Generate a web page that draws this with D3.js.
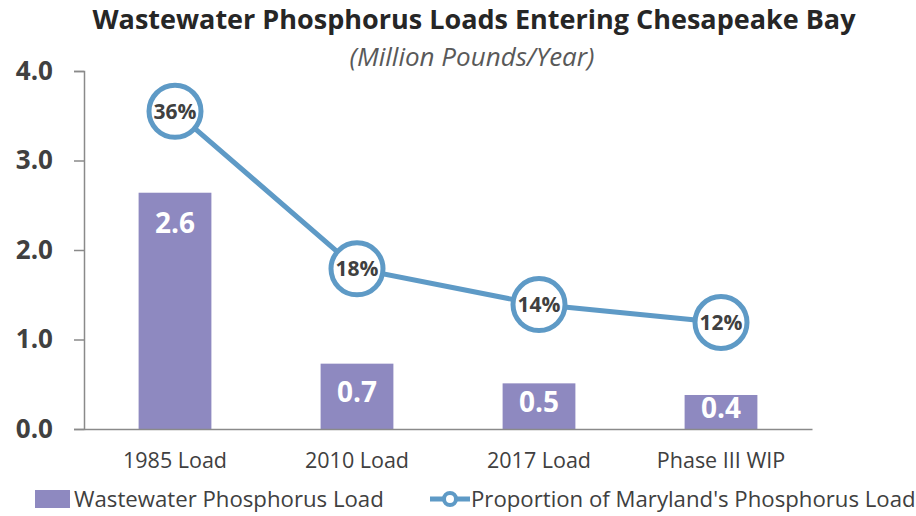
<!DOCTYPE html>
<html>
<head>
<meta charset="utf-8">
<script src="https://cdn.jsdelivr.net/npm/d3@7"></script>
<style>
  body { margin: 0; background: #fff; }
  svg { font-family: "Open Sans", sans-serif; }
</style>
</head>
<body>
<svg id="chart" width="916" height="516"></svg>
<script>
const categories = ["1985 Load", "2010 Load", "2017 Load", "Phase III WIP"];
const loadValues = [2.64, 0.73, 0.51, 0.38];
const loadLabels = ["2.6", "0.7", "0.5", "0.4"];
const proportionValues = [0.355, 0.179, 0.139, 0.119];
const yTicks = [0, 1, 2, 3, 4];

const barColor = "#8E89C0";
const lineColor = "#5E9AC6";
const textColor = "#404040";
const axisColor = "#8a8a8a";

const svg = d3.select("#chart");
const margin = { top: 71, right: 104, bottom: 87, left: 84 };
const width = 916;
const height = 516;

//Scales
const xScale = d3
  .scaleBand()
  .domain(categories)
  .range([margin.left, width - margin.right])
  .paddingInner(0.6)
  .paddingOuter(0.3);

const yScale = d3
  .scaleLinear()
  .domain([0, 4])
  .range([height - margin.bottom, margin.top]);

//secondary axis is hidden, 0% to 40%
const y2Scale = d3
  .scaleLinear()
  .domain([0, 0.4])
  .range([height - margin.bottom, margin.top]);

const centerX = (d) => xScale(d) + xScale.bandwidth() / 2;

//Title
svg
  .append("text")
  .attr("x", 474)
  .attr("y", 29)
  .attr("text-anchor", "middle")
  .attr("font-weight", "bold")
  .attr("font-size", 27)
  .attr("fill", "#262626")
  .text("Wastewater Phosphorus Loads Entering Chesapeake Bay");

svg
  .append("text")
  .attr("x", 472)
  .attr("y", 66)
  .attr("text-anchor", "middle")
  .attr("font-style", "italic")
  .attr("font-size", 26)
  .attr("fill", "#595959")
  .text("(Million Pounds/Year)");

//Bars
svg
  .selectAll(".bar")
  .data(categories)
  .enter()
  .append("rect")
  .attr("class", "bar")
  .attr("x", (d) => xScale(d))
  .attr("y", (d, i) => yScale(loadValues[i]))
  .attr("width", xScale.bandwidth())
  .attr("height", (d, i) => yScale(0) - yScale(loadValues[i]))
  .attr("fill", barColor);

//labels sit near the top, or get pushed toward the middle on short bars
const labelCenter = (i) => {
  const top = yScale(loadValues[i]);
  return Math.min(top + 30, (top + yScale(0)) / 2 - 4);
};

svg
  .selectAll(".bar-label")
  .data(categories)
  .enter()
  .append("text")
  .attr("class", "bar-label")
  .attr("x", centerX)
  .attr("y", (d, i) => labelCenter(i))
  .attr("dy", "0.36em")
  .attr("text-anchor", "middle")
  .attr("font-weight", "bold")
  .attr("font-size", 28)
  .attr("fill", "#fff")
  .text((d, i) => loadLabels[i]);

//Axes
const yAxis = d3
  .axisLeft(yScale)
  .tickValues(yTicks)
  .tickFormat(d3.format(".1f"))
  .tickSize(10)
  .tickPadding(21);

const yAxisG = svg
  .append("g")
  .attr("transform", `translate(${margin.left},0)`)
  .call(yAxis);
yAxisG.select(".domain").attr("stroke", axisColor).attr("stroke-width", 1.5);
yAxisG.selectAll(".tick line").attr("stroke", axisColor).attr("stroke-width", 1.5);
yAxisG
  .selectAll(".tick text")
  .attr("font-family", "'Open Sans', sans-serif")
  .attr("font-size", 26)
  .attr("font-weight", "bold")
  .attr("fill", textColor);

const xAxis = d3.axisBottom(xScale).tickSize(0).tickPadding(24);
const xAxisG = svg
  .append("g")
  .attr("transform", `translate(0,${yScale(0)})`)
  .call(xAxis);
xAxisG.select(".domain").attr("stroke", axisColor).attr("stroke-width", 1.5);
xAxisG
  .selectAll(".tick text")
  .attr("font-family", "'Open Sans', sans-serif")
  .attr("font-size", 21.5)
  .attr("fill", textColor);

//Line with markers
const line = d3
  .line()
  .x((d, i) => centerX(categories[i]))
  .y((d) => y2Scale(d));

svg
  .append("path")
  .datum(proportionValues)
  .attr("d", line)
  .attr("fill", "none")
  .attr("stroke", lineColor)
  .attr("stroke-width", 5);

const markers = svg
  .selectAll(".marker")
  .data(proportionValues)
  .enter()
  .append("g")
  .attr("class", "marker")
  .attr("transform", (d, i) => `translate(${centerX(categories[i])},${y2Scale(d)})`);

markers
  .append("circle")
  .attr("r", 26)
  .attr("fill", "#fff")
  .attr("stroke", lineColor)
  .attr("stroke-width", 5);

markers
  .append("text")
  .attr("text-anchor", "middle")
  .attr("dy", "0.36em")
  .attr("font-weight", "bold")
  .attr("font-size", 21)
  .attr("fill", textColor)
  .text((d) => d3.format(".0%")(d));

//Legend
const legend = svg.append("g").attr("transform", "translate(0,499)");
legend
  .append("rect")
  .attr("x", 35)
  .attr("y", -9)
  .attr("width", 35)
  .attr("height", 18)
  .attr("fill", barColor);
legend
  .append("text")
  .attr("x", 74)
  .attr("y", 8)
  .attr("font-size", 22.2)
  .attr("fill", textColor)
  .text("Wastewater Phosphorus Load");
legend
  .append("line")
  .attr("x1", 430)
  .attr("x2", 470)
  .attr("y1", 0)
  .attr("y2", 0)
  .attr("stroke", lineColor)
  .attr("stroke-width", 5);
legend
  .append("circle")
  .attr("cx", 450)
  .attr("cy", 0)
  .attr("r", 6)
  .attr("fill", "#fff")
  .attr("stroke", lineColor)
  .attr("stroke-width", 4);
legend
  .append("text")
  .attr("x", 471)
  .attr("y", 8)
  .attr("font-size", 22.2)
  .attr("fill", textColor)
  .text("Proportion of Maryland's Phosphorus Load");
</script>
</body>
</html>
